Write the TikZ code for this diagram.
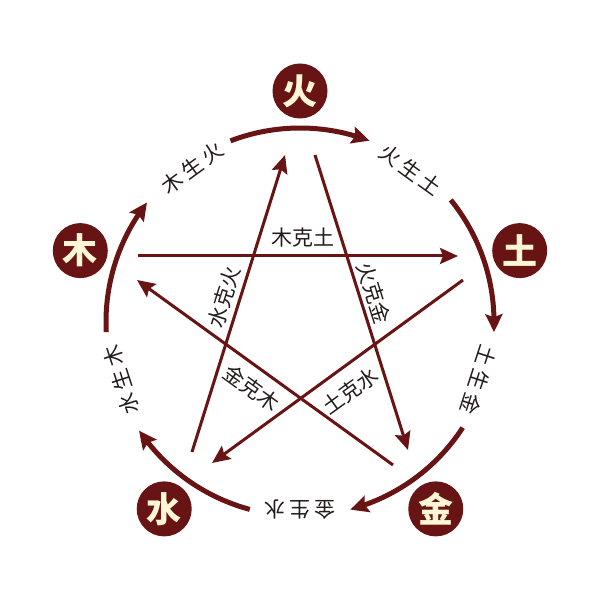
\documentclass[tikz,border=0pt]{standalone}
\usepackage{fontspec}
\newfontfamily\cjk{Noto Sans CJK SC}
\usetikzlibrary{arrows.meta,bending}
\definecolor{maroon}{RGB}{104,20,20}
\definecolor{cream}{RGB}{255,246,214}
\definecolor{labgray}{RGB}{36,28,28}
\newcommand{\chsp}{\hspace{4pt}}
\begin{document}
\begin{tikzpicture}[x=1pt,y=1pt,
  elem/.style={circle, fill=maroon, minimum size=55pt, inner sep=0pt, text=cream,
    font=\cjk\bfseries\fontsize{35}{35}\selectfont},
  ring/.style={draw=maroon, line width=5pt, -{Stealth[length=18pt,width=17pt,inset=3pt,bend]}},
  ke/.style={draw=maroon, line width=3pt, -{Stealth[length=18pt,width=16pt,inset=3pt]}},
  lab/.style={font=\cjk\fontsize{21}{21}\selectfont, text=labgray, inner sep=0pt}]
\useasboundingbox (0,0) rectangle (600,600);
\fill[white] (0,0) rectangle (600,600);
\coordinate (C) at (300,278);
% elements
\node[elem] (huo) at ([shift={(90:231)}]C) {火};
\node[elem] (tu)  at ([shift={(18:231)}]C) {土};
\node[elem] (jin) at ([shift={(-54:231)}]C) {金};
\node[elem] (shui) at ([shift={(-126:231)}]C) {水};
\node[elem] (mu)  at ([shift={(162:231)}]C) {木};
% generating ring
\coordinate (rHuo) at ([shift={(111:194)}]C);
\coordinate (rTu) at ([shift={(39:194)}]C);
\coordinate (rJin) at ([shift={(-33:194)}]C);
\coordinate (rShui) at ([shift={(-105:194)}]C);
\coordinate (rMu) at ([shift={(183:194)}]C);
\draw[ring] (rHuo) arc[start angle=111, end angle=69, radius=194];
\draw[ring] (rTu) arc[start angle=39, end angle=-3, radius=194];
\draw[ring] (rJin) arc[start angle=-33, end angle=-75, radius=194];
\draw[ring] (rShui) arc[start angle=-105, end angle=-146, radius=194];
\draw[ring] (rMu) arc[start angle=183, end angle=142, radius=194];
% generating labels
\node[lab, rotate=36]   (lMuHuo)  at ([shift={(125:188)}]C) {木\chsp 生\chsp 火};
\node[lab, rotate=-36]  (lHuoTu)  at ([shift={(54:188)}]C) {火\chsp 生\chsp 土};
\node[lab, rotate=-108] (lTuJin)  at ([shift={(-18:188)}]C) {土\chsp 生\chsp 金};
\node[lab, rotate=180]  (lJinShui) at ([shift={(-90:188)}]C) {金\chsp 生\chsp 水};
\node[lab, rotate=108]  (lShuiMu) at ([shift={(-162:188)}]C) {水\chsp 生\chsp 木};
% overcoming star
\coordinate (kMuA) at (138,344);   \coordinate (kMuB) at (458,344);
\coordinate (kTuA) at (463,320);   \coordinate (kTuB) at (212,137);
\coordinate (kShuiA) at (192,148); \coordinate (kShuiB) at (285,445);
\coordinate (kHuoA) at (315,445);  \coordinate (kHuoB) at (408,150);
\coordinate (kJinA) at (393,135);  \coordinate (kJinB) at (137,320);
\draw[ke] (kMuA) -- (kMuB);
\draw[ke] (kTuA) -- (kTuB);
\draw[ke] (kShuiA) -- (kShuiB);
\draw[ke] (kHuoA) -- (kHuoB);
\draw[ke] (kJinA) -- (kJinB);
% overcoming labels
\node[lab] (lMuTu) at (303,362) {木克土};
\node[lab, rotate=72.6] (lShuiHuo) at (224,303) {水克火};
\node[lab, rotate=-72.6] (lHuoJin) at (374,307) {火克金};
\node[lab, rotate=-35.9] (lJinMu) at (252,212) {金克木};
\node[lab, rotate=35.9] (lTuShui) at (350,209) {土克水};
\end{tikzpicture}
\end{document}
